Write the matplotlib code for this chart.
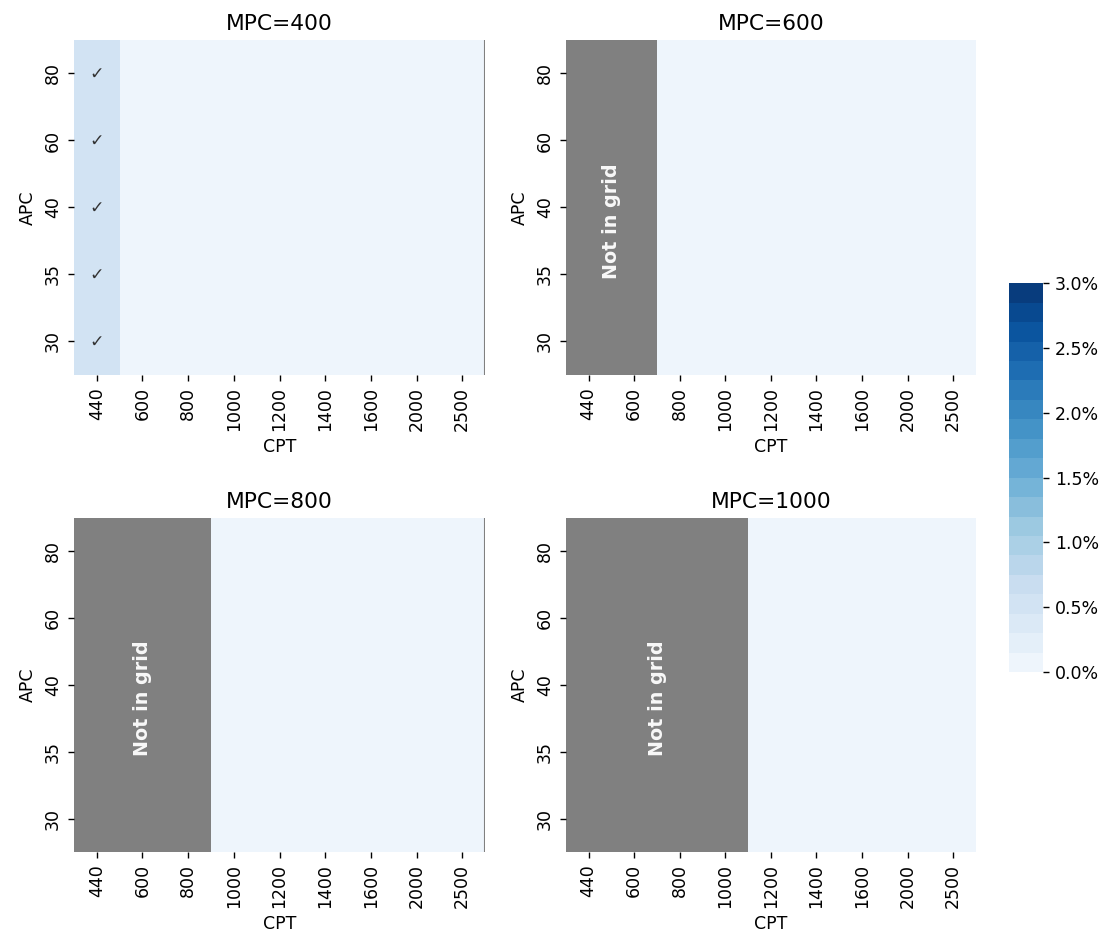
import numpy as np
import matplotlib
matplotlib.use('Agg')
import matplotlib.pyplot as plt
import seaborn as sns
from matplotlib.colors import ListedColormap
from matplotlib.ticker import FuncFormatter

cpt = [440, 600, 800, 1000, 1200, 1400, 1600, 2000, 2500]
apc = [80, 60, 40, 35, 30]
mpc = [400, 600, 800, 1000]

# column values (%) per panel, same down every APC row; None = not in grid
cols_mpc400 = [0.5, 0.05, 0.05, 0.05, 0.05, 0.05, 0.05, 0.05, 0.05]
cols_mpc600 = [None, None, 0.05, 0.05, 0.05, 0.05, 0.05, 0.05, 0.05]
cols_mpc800 = [None, None, None, 0.05, 0.05, 0.05, 0.05, 0.05, 0.05]
cols_mpc1000 = [None, None, None, None, 0.05, 0.05, 0.05, 0.05, 0.05]
panel_cols = [cols_mpc400, cols_mpc600, cols_mpc800, cols_mpc1000]

# columns that get a check mark in every row
checked = [[0], [], [], []]

cmap = ListedColormap(sns.color_palette('Blues', 20))

fig = plt.figure(figsize=(8.912, 7.552), dpi=125)
positions = [
    [0.0664, 0.6028, 0.369, 0.3549],
    [0.508, 0.6028, 0.368, 0.3549],
    [0.0664, 0.0975, 0.369, 0.3538],
    [0.508, 0.0975, 0.368, 0.3538],
]
cax = fig.add_axes([0.9057, 0.288, 0.0305, 0.412])

for k in range(4):
    ax = fig.add_axes(positions[k])
    row = [np.nan if v is None else v for v in panel_cols[k]]
    data = np.array([row] * len(apc))
    ax.set_facecolor('gray')
    sns.heatmap(data, ax=ax, cmap=cmap, vmin=0, vmax=3,
                xticklabels=cpt, yticklabels=apc,
                cbar=(k == 0), cbar_ax=cax if k == 0 else None)
    ax.set_title(f'MPC={mpc[k]}', fontsize=12.5)
    ax.set_xlabel('CPT')
    ax.set_ylabel('APC')
    plt.setp(ax.get_xticklabels(), rotation=90)
    plt.setp(ax.get_yticklabels(), rotation=90, va='center')

    missing = sum(v is None for v in panel_cols[k])
    if missing:
        ax.text(missing / 2, len(apc) / 2 + 0.2, 'Not in grid', rotation=90,
                ha='center', va='center', color='white', fontsize=11,
                fontweight='bold', alpha=0.95)
    for c in checked[k]:
        for r in range(len(apc)):
            ax.text(c + 0.5, r + 0.5, '\u2713', ha='center', va='center',
                    color='#333333', fontsize=10)
    if k % 2 == 0:
        ax.axvline(len(cpt), color='gray', lw=1.2)

cax.yaxis.set_major_formatter(FuncFormatter(lambda v, p: f'{v:.1f}%'))
cax.set_yticks([0, 0.5, 1.0, 1.5, 2.0, 2.5, 3.0])

fig.savefig('out.png', dpi=125)
